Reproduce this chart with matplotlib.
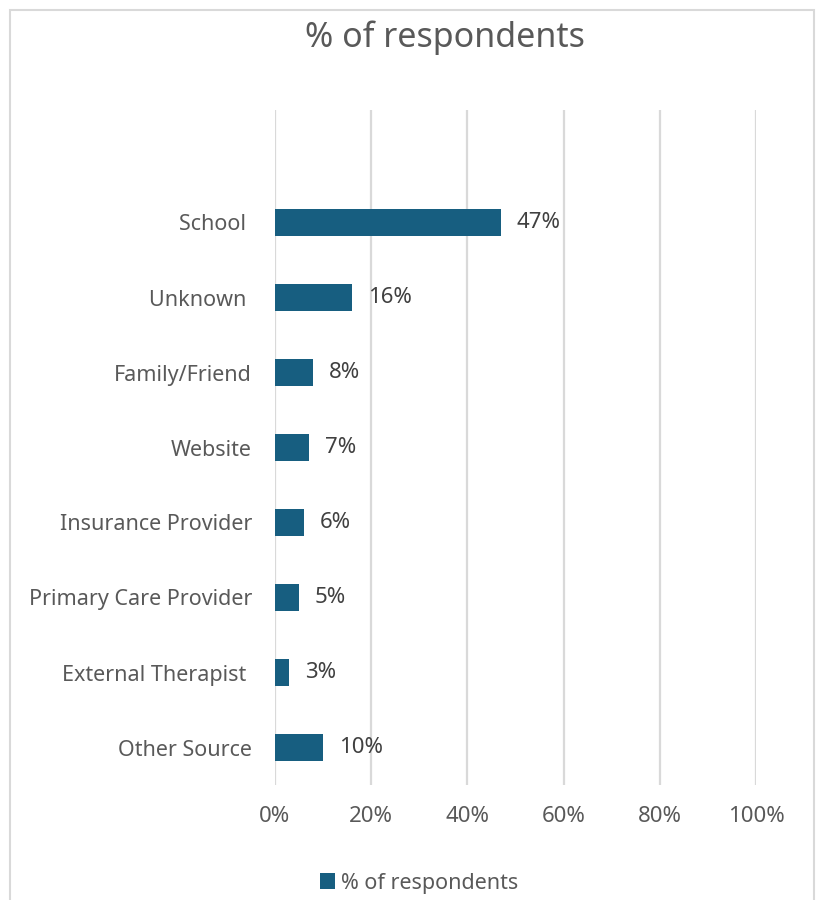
import matplotlib.pyplot as plt
from matplotlib.patches import Rectangle
from matplotlib.ticker import PercentFormatter

# Fuente de referencia por respuesta
categorias = ["School ", "Unknown ", "Family/Friend", "Website", "Insurance Provider",
              "Primary Care Provider", "External Therapist ", "Other Source"]
porcentajes = [47, 16, 8, 7, 6, 5, 3, 10]
ticksX = [0, 20, 40, 60, 80, 100]

colorBarra = "#175E80"
colorTexto = "#595959"
colorGrid = "#D9D9D9"

plt.rcParams['font.family'] = ['Noto Sans', 'DejaVu Sans']

fig = plt.figure(figsize=(8.22, 9), dpi=100)
ax = fig.add_axes([275 / 822, 115 / 900, 481 / 822, 675 / 900])

posiciones = list(range(len(categorias)))
ax.barh(posiciones, porcentajes, height=0.36, color=colorBarra, label="% of respondents", zorder=3)

# Etiquetas de valor al final de cada barra
for p, v in zip(posiciones, porcentajes):
    ax.text(v + 3.3, p, f"{v}%", va="center", ha="left", fontsize=16, color="#404040")

ax.set_xlim(0, 100)
ax.set_ylim(7.5, -1.5)
ax.set_xticks(ticksX)
ax.xaxis.set_major_formatter(PercentFormatter(decimals=0))
ax.set_yticks(posiciones)
ax.set_yticklabels(categorias)
ax.tick_params(axis="both", length=0, labelsize=15.5, labelcolor=colorTexto)
ax.tick_params(axis="x", labelsize=16, pad=15)
ax.tick_params(axis="y", pad=16.5)
ax.grid(axis="x", color=colorGrid, linewidth=1.6, zorder=0)
for s in ax.spines.values():
    s.set_visible(False)

fig.text(445 / 822, 1 - 38 / 900, "% of respondents", ha="center", va="center", fontsize=24.5, color=colorTexto)

fig.legend(loc="center", bbox_to_anchor=(419 / 822, 1 - 883 / 900), frameon=False, fontsize=15.5,
           labelcolor=colorTexto, handlelength=0.7, handleheight=0.7, handletextpad=0.3)

# Borde del area del grafico
fig.patches.append(Rectangle((10 / 822, -0.05), 804 / 822, 1.05 - 10 / 900, transform=fig.transFigure,
                             fill=False, edgecolor=colorGrid, linewidth=1.5))

fig.savefig("out.png", dpi=100)
